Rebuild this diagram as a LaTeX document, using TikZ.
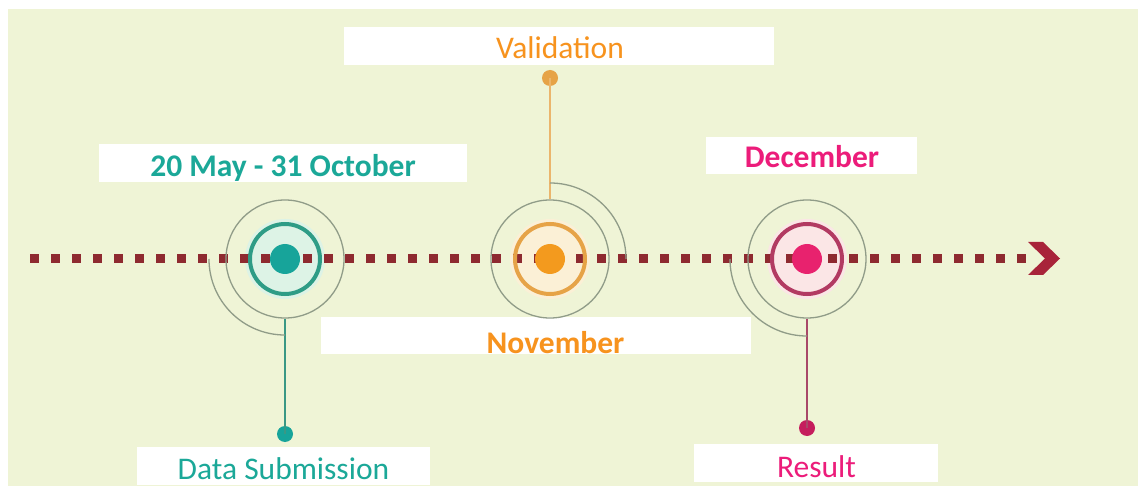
\documentclass[tikz,border=0pt]{standalone}
\usepackage{fontspec}
\setmainfont{Carlito}
\definecolor{bg}{HTML}{EFF4D6}
\definecolor{tealtxt}{HTML}{1BA898}
\definecolor{tealring}{HTML}{2E9C86}
\definecolor{tealdot}{HTML}{17A49A}
\definecolor{tealglow}{HTML}{DDF3E6}
\definecolor{orgtxt}{HTML}{F7931E}
\definecolor{orgring}{HTML}{E6A347}
\definecolor{orgdot}{HTML}{F39A1E}
\definecolor{orgglow}{HTML}{FBF0D6}
\definecolor{pnktxt}{HTML}{EC1C7A}
\definecolor{pnkring}{HTML}{B23A62}
\definecolor{pnkdot}{HTML}{E8226E}
\definecolor{pnkglow}{HTML}{FBE6E6}
\definecolor{greyarc}{HTML}{909C88}
\definecolor{dotred}{HTML}{8E2A30}
\definecolor{arrred}{HTML}{A8243A}
\begin{document}
\begin{tikzpicture}[x=1pt,y=-1pt,
  box/.style={rectangle, fill=white, draw=none, inner sep=0pt},
  lbl/.style={anchor=base, inner sep=0pt, font=\fontsize{31.5}{36}\selectfont},
  blbl/.style={lbl, font=\fontsize{31.5}{36}\selectfont\bfseries},
  glow/.style={circle, inner sep=0pt, minimum size=80pt, draw=none},
  ring/.style={circle, inner sep=0pt, minimum size=70pt, line width=4pt},
  outer/.style={circle, inner sep=0pt, minimum size=118pt, draw=greyarc, line width=1.3pt},
  cdot/.style={circle, inner sep=0pt, minimum size=30pt},
  sdot/.style={circle, inner sep=0pt, minimum size=16pt},
  arcline/.style={draw=greyarc, line width=1.3pt},
  stem/.style={line width=2.2pt}
]
\useasboundingbox (0,0) rectangle (1138,486);
\fill[bg] (8,9) rectangle (1138,486);

% text boxes
\node[box, minimum width=430pt, minimum height=38pt] (valbox) at (559,46) {};
\node[lbl, text=orgtxt] (valtxt) at (560,59) {Validation};
\node[box, minimum width=368pt, minimum height=38pt] (maybox) at (283,163) {};
\node[blbl, text=tealtxt] (maytxt) at (283,177) {20 May - 31 October};
\node[box, minimum width=211pt, minimum height=37pt] (decbox) at (811.5,155.5) {};
\node[blbl, text=pnktxt] (dectxt) at (812,168) {December};
\node[box, minimum width=430pt, minimum height=37pt] (novbox) at (536,335.5) {};
\node[blbl, text=orgtxt] (novtxt) at (555.5,353) {November};
\node[box, minimum width=293pt, minimum height=38pt] (dsbox) at (283.5,466) {};
\node[lbl, text=tealtxt] (dstxt) at (283.5,479) {Data Submission};
\node[box, minimum width=244pt, minimum height=38pt] (resbox) at (816,463) {};
\node[lbl, text=pnktxt] (restxt) at (816.5,477) {Result};

% glows
\node[glow, fill=tealglow] (tglow) at (285,259) {};
\node[glow, fill=orgglow] (oglow) at (550,259) {};
\node[glow, fill=pnkglow] (pglow) at (807,259) {};

% dotted time line
\coordinate (lstart) at (30,259);
\coordinate (lend) at (1026,259);
\draw[dotred, line width=9pt, dash pattern=on 9pt off 12pt] (lstart) -- (lend);
\node[draw=none, inner sep=0pt] (arrow) at (1044,258.5) {};
\fill[arrred] (1028,242) -- (1043,242) -- (1060,258.5) -- (1043,275) -- (1028,275) -- (1045,258.5) -- cycle;

% teal milestone
\node[outer] (tout) at (285,259) {};
\node[ring, draw=tealring] (tring) at (285,259) {};
\node[cdot, fill=tealdot] (tc) at (285,259) {};
\node[sdot, fill=tealdot] (tsd) at (285,434) {};
\draw[stem, draw=tealring!85!gray] (tout.south) -- (tsd.center);
\draw[arcline] ([xshift=-76pt]tc.center) arc[start angle=180, end angle=270, radius=76pt];

% orange milestone
\node[outer] (oout) at (550,259) {};
\node[ring, draw=orgring] (oring) at (550,259) {};
\node[cdot, fill=orgdot] (oc) at (550,259) {};
\node[sdot, fill=orgring] (osd) at (550,78) {};
\draw[stem, draw=orgring!80!white] (osd.center) -- (oout.north);
\draw[arcline] ([yshift=76pt]oc.center) arc[start angle=90, end angle=0, radius=76pt];

% pink milestone
\node[outer] (pout) at (807,259) {};
\node[ring, draw=pnkring] (pring) at (807,259) {};
\node[cdot, fill=pnkdot] (pc) at (807,259) {};
\node[sdot, fill=pnkdot!85!black] (psd) at (807,428) {};
\draw[stem, draw=pnkring!80!gray] (pout.south) -- (psd.center);
\draw[arcline] ([xshift=-77pt]pc.center) arc[start angle=180, end angle=270, radius=77pt];
\end{tikzpicture}
\end{document}
